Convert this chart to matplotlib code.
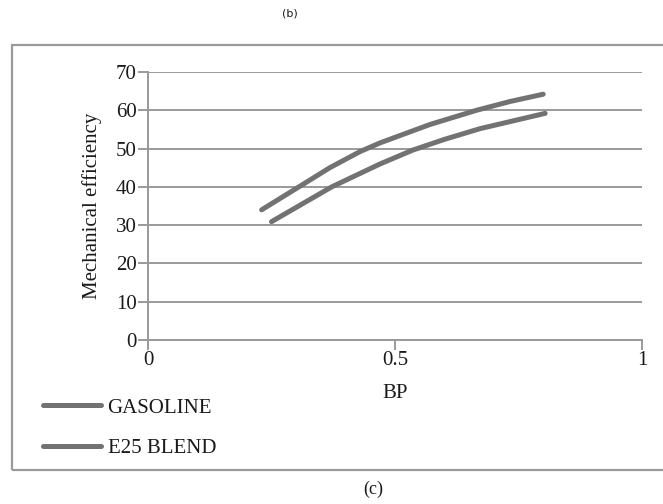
import matplotlib.pyplot as plt
from matplotlib.patches import Rectangle

# values
bp_gas = [0.230, 0.308, 0.368, 0.429, 0.470, 0.571, 0.665, 0.733, 0.800]
eff_gas = [34.0, 40.2, 45.0, 49.2, 51.5, 56.3, 60.0, 62.3, 64.2]
bp_e25 = [0.250, 0.372, 0.470, 0.536, 0.600, 0.672, 0.804]
eff_e25 = [30.9, 40.0, 46.0, 49.6, 52.4, 55.2, 59.2]
y_ticks = [0, 10, 20, 30, 40, 50, 60, 70]
x_ticks = [0, 0.5, 1]
x_ticklabels = ["0", "0.5", "1"]

plt.rcParams['font.family'] = ['Liberation Serif', 'DejaVu Serif']
fs = 15

line_col = '#727272'
grid_col = '#9a9a9a'
txt_col = '#1a1a1a'

fig = plt.figure(figsize=(6.63, 5.04), dpi=100)
ax = fig.add_axes([148/663, 1 - 340/504, (642-148)/663, (340-72)/504])

ax.plot(bp_gas, eff_gas, color=line_col, lw=3.6, solid_capstyle='round', label='GASOLINE')
ax.plot(bp_e25, eff_e25, color=line_col, lw=3.6, solid_capstyle='round', label='E25 BLEND')

ax.set_xlim(0, 1)
ax.set_ylim(0, 70)
ax.set_yticks(y_ticks)
ax.set_xticks(x_ticks)
ax.set_xticklabels(x_ticklabels)
ax.grid(axis='y', color=grid_col, lw=1.4)
ax.set_axisbelow(True)
for s in ['top', 'right']:
    ax.spines[s].set_visible(False)
for s in ['left', 'bottom']:
    ax.spines[s].set_color(grid_col)
    ax.spines[s].set_linewidth(1.4)
ax.tick_params(colors=grid_col, labelcolor=txt_col, width=1.4, length=7, labelsize=fs, pad=1)
ax.set_ylabel('Mechanical efficiency', fontsize=fs, color=txt_col, labelpad=10)
ax.set_xlabel('BP', fontsize=fs, color=txt_col, labelpad=10)

fig.legend(loc='center left', bbox_to_anchor=(43/663, 1 - 428/504), frameon=False,
           handlelength=2.8, labelspacing=1.0, handletextpad=0.3, borderpad=0,
           borderaxespad=0, fontsize=fs, labelcolor=txt_col)

# outer frame (runs off the right edge) and panel labels
fig.patches.append(Rectangle((12/663, 1 - 470/504), 700/663, (470-45)/504,
                             transform=fig.transFigure, fill=False, edgecolor=grid_col, lw=1.6))
fig.text(290/663, 1 - 13/504, '(b)', ha='center', va='center', fontsize=8,
         family='DejaVu Sans', color=txt_col)
fig.text(373/663, 1 - 489/504, '(c)', ha='center', va='center', fontsize=13, color=txt_col)

fig.savefig('out.png', dpi=100)
